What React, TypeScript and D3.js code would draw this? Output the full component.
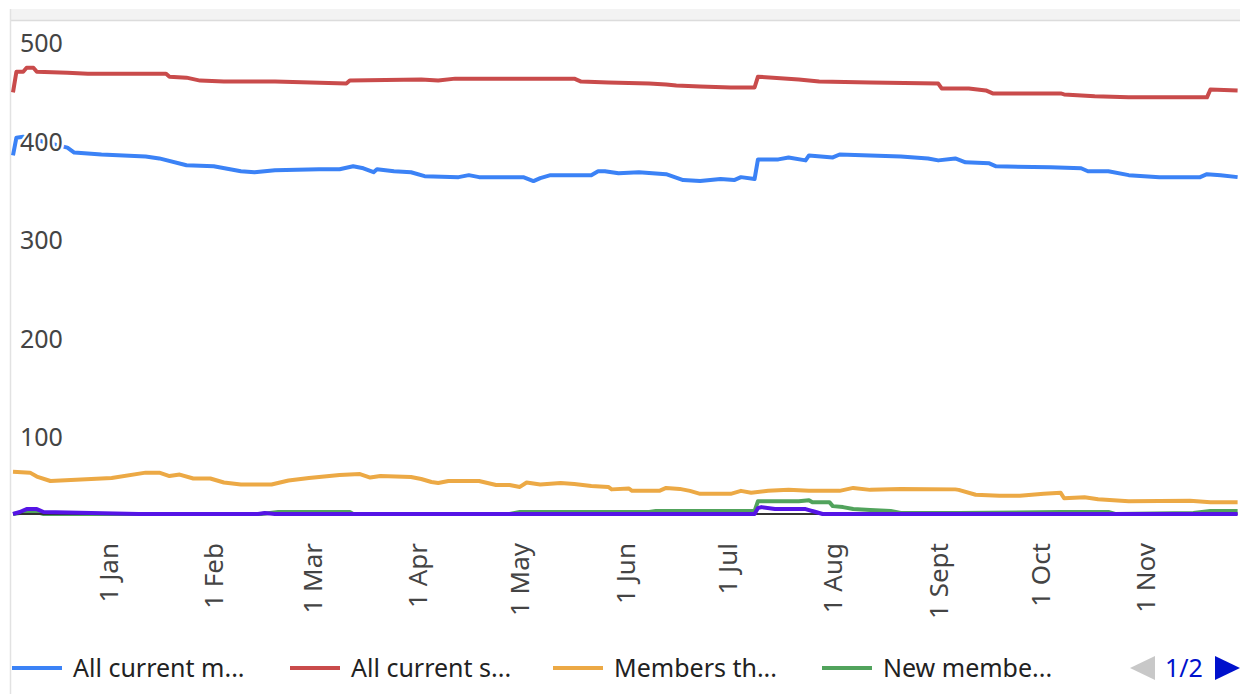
import React from 'react';
import { select, scaleTime, scaleLinear, line, timeDay } from 'd3';

// series are [day index from start, value]
const startDate = new Date(2019, 11, 4);
const endDate = new Date(2020, 10, 29);

const allCurrentMembers: [number, number][] = [
    [0, 364], [1, 382], [3, 383], [16, 372], [18, 367], [26, 365], [39, 363], [43, 361],
    [51, 354], [59, 353], [67, 348], [71, 347], [77, 349], [90, 350], [96, 350], [100, 353],
    [103, 351], [106, 347], [107, 350], [112, 348], [117, 347], [121, 343], [131, 342],
    [134, 344], [137, 342], [150, 342], [153, 338], [155, 341], [158, 344], [170, 344],
    [172, 348], [174, 348], [178, 346], [184, 347], [192, 345], [197, 339], [202, 338],
    [208, 340], [212, 339], [214, 342], [218, 340], [219, 360], [225, 360], [228, 362],
    [233, 359], [234, 364], [241, 362], [243, 365], [261, 363], [269, 361], [272, 359],
    [277, 361], [280, 357], [287, 356], [289, 353], [305, 352], [314, 351], [316, 348],
    [322, 348], [328, 344], [337, 342], [349, 342], [351, 345], [355, 344], [360, 342],
];

const allCurrentSubs: [number, number][] = [
    [0, 428], [1, 449], [3, 449], [4, 453], [6, 453], [7, 449], [16, 448], [22, 447],
    [45, 447], [46, 444], [51, 443], [55, 440], [62, 439], [77, 439], [98, 437], [99, 440],
    [120, 441], [125, 440], [130, 442], [165, 442], [167, 439], [175, 438], [187, 437],
    [192, 436], [195, 435], [202, 434], [211, 433], [218, 433], [219, 444], [231, 441],
    [237, 439], [252, 438], [272, 437], [273, 432], [281, 432], [286, 430], [288, 427],
    [308, 427], [309, 426], [318, 424], [328, 423], [351, 423], [352, 431], [360, 430],
];

const membersThat: [number, number][] = [
    [0, 43], [5, 42], [7, 38], [11, 33.5], [29, 36.5], [39, 42], [43, 42], [46, 38.5],
    [49, 40], [53, 36], [58, 36], [62, 32], [67, 30], [76, 30], [81, 34], [87, 36.5],
    [96, 39.5], [102, 40.5], [105, 37], [108, 38.5], [117, 37.5], [120, 35.5], [123, 32.5],
    [125, 31.5], [128, 33.5], [137, 33.5], [142, 29.5], [146, 29.5], [149, 27.5], [151, 32],
    [155, 30], [161, 31.5], [165, 30.5], [170, 28.5], [175, 27.5], [176, 25], [181, 26],
    [182, 23.5], [190, 23.5], [192, 26.5], [196, 25.5], [199, 23.5], [202, 20.5], [211, 20.5],
    [214, 23.5], [217, 21.5], [222, 23.5], [228, 24.5], [234, 23.5], [243, 23.5], [247, 26.5],
    [252, 24.5], [261, 25.5], [277, 25], [278, 24.5], [283, 19.5], [290, 18.5], [296, 18.5],
    [303, 20.5], [308, 21.5], [309, 16], [315, 17], [319, 15], [328, 13], [346, 13.5],
    [352, 12], [360, 12],
];

const newMembers: [number, number][] = [
    [0, 0], [4, 2], [5, 3], [7, 2], [9, 0], [73, 0], [78, 2], [99, 2], [100, 0],
    [146, 0], [149, 2], [187, 2], [189, 3], [218, 3], [219, 13], [231, 13], [234, 14],
    [235, 12], [240, 12], [241, 8], [244, 7], [247, 5], [252, 4], [258, 3], [261, 1],
    [278, 1], [308, 2], [322, 2], [324, 0], [347, 1], [352, 3], [360, 3],
];

const otherSeries: [number, number][] = [[0, 0], [360, 0]];

const purpleSeries: [number, number][] = [
    [0, 0], [2, 2], [4, 5], [7, 5], [9, 2], [37, 0], [72, 0], [74, 1], [77, 0], [218, 0],
    [219, 6], [220, 7], [224, 5], [233, 5], [236, 2], [238, 0], [360, 0],
];

const series = [
    { name: 'All current m...', color: '#3b82f6', data: allCurrentMembers },
    { name: 'All current s...', color: '#c94b4b', data: allCurrentSubs },
    { name: 'Members th...', color: '#eca945', data: membersThat },
    { name: 'New membe...', color: '#51a35c', data: newMembers },
    { name: '', color: '#333333', data: otherSeries },
    { name: '', color: '#5514e6', data: purpleSeries },
];

const yTicks = [100, 200, 300, 400, 500];
const monthTicks = [
    [new Date(2020, 0, 1), '1 Jan'], [new Date(2020, 1, 1), '1 Feb'], [new Date(2020, 2, 1), '1 Mar'],
    [new Date(2020, 3, 1), '1 Apr'], [new Date(2020, 4, 1), '1 May'], [new Date(2020, 5, 1), '1 Jun'],
    [new Date(2020, 6, 1), '1 Jul'], [new Date(2020, 7, 1), '1 Aug'], [new Date(2020, 8, 1), '1 Sept'],
    [new Date(2020, 9, 1), '1 Oct'], [new Date(2020, 10, 1), '1 Nov'],
] as [Date, string][];

const W = 1240;
const H = 694;
const FONT = '"Noto Sans", "Open Sans", sans-serif';

class LineChart extends React.Component {
    node: SVGSVGElement | null = null;

    componentDidMount() {
        this.draw();
    }

    componentDidUpdate() {
        this.draw();
    }

    draw() {
        const svg = select(this.node);
        svg.selectAll('*').remove();

        const x = scaleTime().domain([startDate, endDate]).range([13, 1241]);
        const y = scaleLinear().domain([0, 500]).range([514, 21.5]);

        // frame
        svg.append('rect').attr('x', 11).attr('y', 9).attr('width', W - 11).attr('height', 11)
            .attr('fill', '#f3f3f3');
        svg.append('line').attr('x1', 11).attr('x2', W).attr('y1', 20.5).attr('y2', 20.5)
            .attr('stroke', '#dcdcdc').attr('stroke-width', 1.5);
        svg.append('line').attr('x1', 10.5).attr('x2', 10.5).attr('y1', 9).attr('y2', H)
            .attr('stroke', '#e2e2e2').attr('stroke-width', 1.5);

        const gen = line<[number, number]>()
            .x(d => x(timeDay.offset(startDate, d[0])))
            .y(d => y(d[1]));

        const lines = svg.append('g');
        series.forEach(s => {
            lines.append('path')
                .attr('d', gen(s.data))
                .attr('fill', 'none')
                .attr('stroke', s.color)
                .attr('stroke-width', s.color === '#333333' ? 2 : 4)
                .attr('stroke-linejoin', 'round');
        });

        // y labels sit inside the plot, under their value
        svg.append('g').selectAll('text').data(yTicks).enter()
            .append('text')
            .attr('x', 20)
            .attr('y', d => y(d) + 30.5)
            .attr('font-family', FONT)
            .attr('font-size', 25)
            .attr('fill', '#444')
            .attr('stroke', '#fff')
            .attr('stroke-width', 5)
            .attr('paint-order', 'stroke')
            .text(d => d);

        svg.append('g').selectAll('text').data(monthTicks).enter()
            .append('text')
            .attr('transform', d => `translate(${x(d[0])},543) rotate(-90)`)
            .attr('text-anchor', 'end')
            .attr('dy', '0.36em')
            .attr('font-family', FONT)
            .attr('font-size', 26)
            .attr('fill', '#444')
            .text(d => d[1]);

        // legend, page 1
        const legendX = [12, 290, 553, 822];
        const legend = svg.append('g');
        series.slice(0, 4).forEach((s, i) => {
            legend.append('line')
                .attr('x1', legendX[i]).attr('x2', legendX[i] + 50)
                .attr('y1', 668).attr('y2', 668)
                .attr('stroke', s.color).attr('stroke-width', 4);
            legend.append('text')
                .attr('x', legendX[i] + 61).attr('y', 677)
                .attr('font-family', FONT).attr('font-size', 25).attr('fill', '#222')
                .text(s.name);
        });
        legend.append('path').attr('d', 'M1130,668L1155,656L1155,680Z').attr('fill', '#c8c8c8');
        legend.append('text')
            .attr('x', 1165).attr('y', 677)
            .attr('font-family', FONT).attr('font-size', 25).attr('fill', '#0011cc')
            .text('1/2');
        legend.append('path').attr('d', 'M1240,668L1215,656L1215,680Z').attr('fill', '#0011cc');
    }

    render() {
        return (
            <svg
                width={W}
                height={H}
                style={{ position: 'absolute', left: 0, top: 0, background: '#fff' }}
                ref={node => { this.node = node; }}
            />
        );
    }
}

export default function App() {
    return <LineChart />;
}
